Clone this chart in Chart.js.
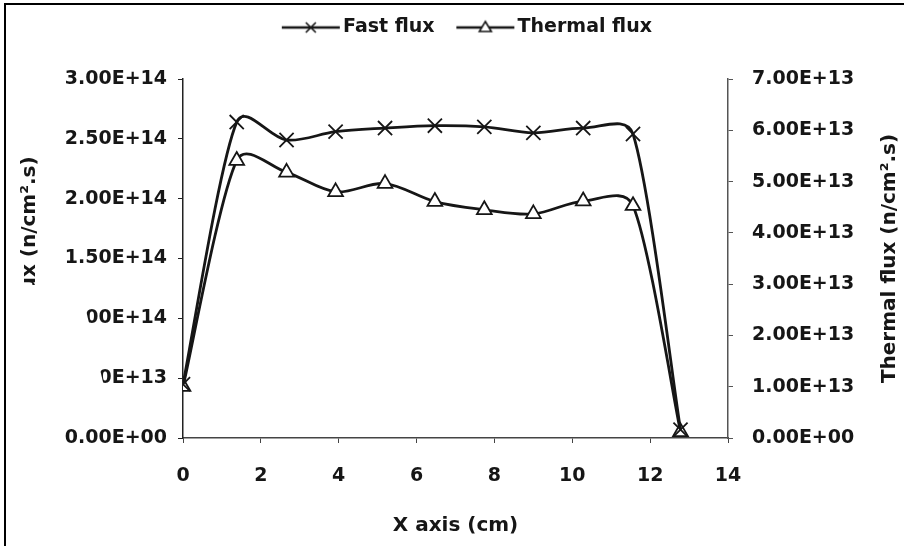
<!DOCTYPE html>
<html>
<head>
<meta charset="utf-8">
<script src="https://cdn.jsdelivr.net/npm/chart.js@4/dist/chart.umd.min.js"></script>
<style>
  html, body { margin: 0; padding: 0; background: #fff; }
  canvas { display: block; }
</style>
</head>
<body>
<canvas id="fluxChart" width="904" height="546"></canvas>
<script>
// positions along the channel (cm)
const xPositions = [0, 1.38, 2.66, 3.92, 5.19, 6.47, 7.74, 9.0, 10.28, 11.56, 12.78];
// n/cm2.s
const fastFlux = [4.5e13, 2.64e14, 2.49e14, 2.56e14, 2.59e14, 2.61e14, 2.6e14, 2.55e14, 2.59e14, 2.54e14, 7e12];
const thermalFlux = [1.0e13, 5.41e13, 5.18e13, 4.8e13, 4.96e13, 4.61e13, 4.45e13, 4.37e13, 4.62e13, 4.53e13, 1.2e12];

const seriesNames = ['Fast flux', 'Thermal flux'];
const xTitle = 'X axis (cm)';
const leftTitle = 'Fast flux (n/cm\u00b2.s)';
const rightTitle = 'Thermal flux (n/cm\u00b2.s)';

const INK = '#161616';
const FONT = 'DejaVu Sans';

function sci(v) {
  if (v === 0) return '0.00E+00';
  const [m, e] = Number(v).toExponential(2).split('e');
  const n = Math.abs(parseInt(e, 10));
  return m + 'E' + (e[0] === '-' ? '-' : '+') + String(n).padStart(2, '0');
}

// legend sample: short line with the marker in the middle
function legendArt(kind) {
  const c = document.createElement('canvas');
  c.width = 80;
  c.height = 20;
  const g = c.getContext('2d');
  g.strokeStyle = INK;
  g.lineWidth = 2.5;
  g.beginPath();
  g.moveTo(20, 10);
  g.lineTo(78, 10);
  g.stroke();
  g.lineWidth = 1.6;
  if (kind === 'cross') {
    g.beginPath();
    g.moveTo(44, 5); g.lineTo(54, 15);
    g.moveTo(54, 5); g.lineTo(44, 15);
    g.stroke();
  } else {
    g.fillStyle = '#fff';
    g.beginPath();
    g.moveTo(49, 4); g.lineTo(55, 14); g.lineTo(43, 14); g.closePath();
    g.fill();
    g.stroke();
  }
  return c;
}
const legendImages = [legendArt('cross'), legendArt('tri')];

// spreadsheet-style smoothing: even tangents, arms kept short next to short segments
const smoothLines = {
  id: 'smoothLines',
  beforeDatasetDraw(chart, args) {
    const meta = args.meta;
    meta.dataset.updateControlPoints(chart.chartArea, meta.iScale.axis);
    const pts = meta.data;
    for (let i = 0; i < pts.length; i++) {
      const p = pts[i];
      const a = pts[i - 1] || p;
      const b = pts[i + 1] || p;
      const dx = (b.x - a.x) / 6;
      const dy = (b.y - a.y) / 6;
      const len = Math.hypot(dx, dy) || 1;
      const sPrev = Math.min(1, (0.4 * Math.hypot(p.x - a.x, p.y - a.y)) / len);
      const sNext = Math.min(1, (0.4 * Math.hypot(b.x - p.x, b.y - p.y)) / len);
      p.cp1x = p.x - dx * sPrev;
      p.cp1y = p.y - dy * sPrev;
      p.cp2x = p.x + dx * sNext;
      p.cp2y = p.y + dy * sNext;
    }
  },
};

const pageDecor = {
  id: 'pageDecor',
  afterDraw(chart) {
    const ctx = chart.ctx;
    const area = chart.chartArea;
    ctx.save();
    // right axis title reads bottom to top
    ctx.translate(chart.scales.y1.right - 14, (area.top + area.bottom) / 2);
    ctx.rotate(-Math.PI / 2);
    ctx.fillStyle = INK;
    ctx.font = 'bold 20px "' + FONT + '"';
    ctx.textAlign = 'center';
    ctx.textBaseline = 'middle';
    ctx.fillText(rightTitle, 0, 0);
    ctx.restore();

    // scanned page: left part of the axis labels is lost
    ctx.save();
    ctx.fillStyle = '#fff';
    ctx.beginPath();
    ctx.moveTo(7, 285);
    ctx.lineTo(80, 285);
    ctx.lineTo(112, 420);
    ctx.lineTo(7, 420);
    ctx.closePath();
    ctx.fill();
    // frame
    ctx.fillStyle = '#000';
    ctx.fillRect(4, 3, 900, 2);
    ctx.fillRect(4, 3, 2, 543);
    ctx.restore();
  },
};

const tickFont = { family: FONT, size: 19, weight: 'bold' };
const titleFont = { family: FONT, size: 20, weight: 'bold' };

new Chart(document.getElementById('fluxChart'), {
  type: 'line',
  data: {
    datasets: [
      {
        label: seriesNames[0],
        data: xPositions.map((x, i) => ({ x, y: fastFlux[i] })),
        xAxisID: 'x',
        yAxisID: 'y',
        borderColor: INK,
        borderWidth: 2.8,
        tension: 0.5,
        pointStyle: 'crossRot',
        pointRadius: 10,
        pointBorderWidth: 1.8,
        pointBorderColor: INK,
        pointBackgroundColor: INK,
        fill: false,
      },
      {
        label: seriesNames[1],
        data: xPositions.map((x, i) => ({ x, y: thermalFlux[i] })),
        xAxisID: 'x',
        yAxisID: 'y1',
        borderColor: INK,
        borderWidth: 2.8,
        tension: 0.5,
        pointStyle: 'triangle',
        pointRadius: 8.5,
        pointBorderWidth: 1.8,
        pointBorderColor: INK,
        pointBackgroundColor: '#fff',
        fill: false,
      },
    ],
  },
  options: {
    responsive: false,
    animation: false,
    layout: { padding: { left: 18, top: 8, right: 0, bottom: 0 } },
    plugins: {
      tooltip: { enabled: false },
      legend: {
        position: 'top',
        labels: {
          usePointStyle: true,
          pointStyleWidth: 63.5,
          padding: 10,
          color: INK,
          font: tickFont,
          generateLabels(chart) {
            const items = Chart.defaults.plugins.legend.labels.generateLabels(chart);
            items.forEach((it, i) => { it.pointStyle = legendImages[i]; });
            return items;
          },
        },
      },
    },
    scales: {
      x: {
        type: 'linear',
        position: 'bottom',
        min: 0,
        max: 14,
        ticks: { stepSize: 2, color: INK, font: tickFont, padding: 22 },
        grid: { drawOnChartArea: false, tickLength: 5, color: '#444' },
        border: { color: '#444', width: 1.5, dash: [3, 1] },
        title: { display: true, text: xTitle, color: INK, font: titleFont, padding: { top: 0, bottom: 8 } },
        afterFit(s) { s.height = 108; },
      },
      spacer: {
        type: 'linear',
        position: 'top',
        ticks: { display: false },
        grid: { display: false },
        border: { display: false },
        afterFit(s) { s.height = 32; },
      },
      y: {
        position: 'left',
        min: 0,
        max: 3e14,
        ticks: { stepSize: 5e13, color: INK, font: tickFont, padding: 11, callback: sci },
        grid: { drawOnChartArea: false, tickLength: 5, color: '#222' },
        border: { color: '#222', width: 1.5 },
        title: { display: true, text: leftTitle, color: INK, font: titleFont, padding: { top: 0, bottom: 0 } },
        afterFit(s) { s.width = 165; },
      },
      y1: {
        position: 'right',
        min: 0,
        max: 7e13,
        ticks: { stepSize: 1e13, color: INK, font: tickFont, padding: 19, callback: sci },
        grid: { drawOnChartArea: false, tickLength: 5, color: '#555' },
        border: { color: '#555', width: 1.5, dash: [3, 2] },
        afterFit(s) { s.width = 176; },
      },
    },
  },
  plugins: [smoothLines, pageDecor],
});
</script>
</body>
</html>
